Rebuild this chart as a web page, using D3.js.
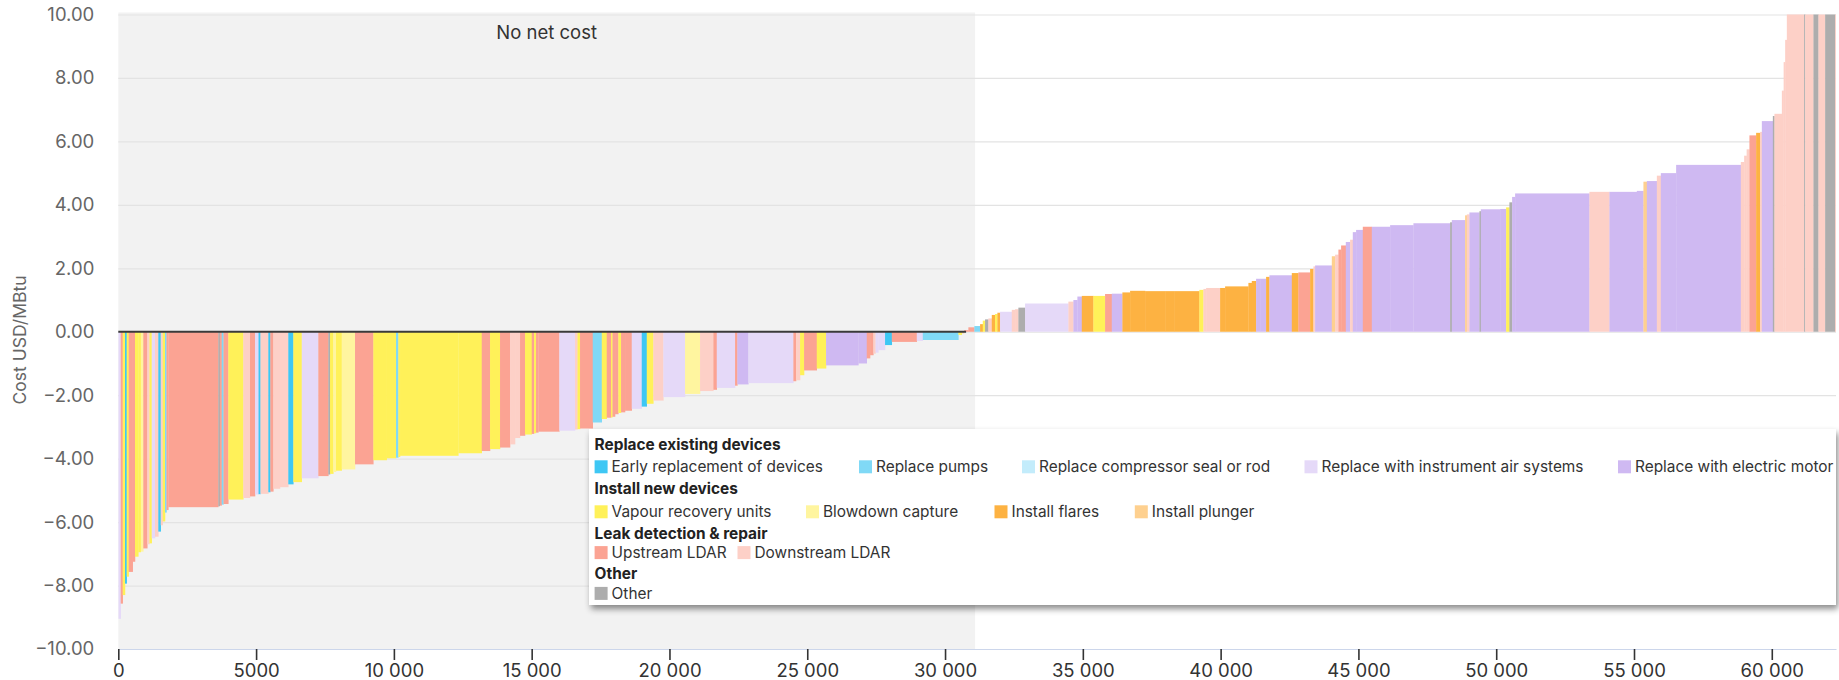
<!DOCTYPE html>
<html><head><meta charset="utf-8">
<script src="https://cdn.jsdelivr.net/npm/d3@7"></script>
<style>
body{margin:0;background:#fff;}
svg{display:block;font-family:Inter,"Noto Sans",Roboto,sans-serif;}
</style>
</head><body>
<svg id="chart" width="1839" height="680"></svg>
<script>
// ---------- DATA ----------
const measureNames = [
  "Early replacement of devices", "Replace pumps", "Replace compressor seal or rod",
  "Replace with instrument air systems", "Replace with electric motor",
  "Vapour recovery units", "Blowdown capture", "Install flares", "Install plunger",
  "Upstream LDAR", "Downstream LDAR", "Other"
];
const measureColors = [
  "#3ec7f4", "#80d9f6", "#c3ecfb", "#e5d9f8", "#cfb9f2",
  "#fff159", "#fff59f", "#fdb242", "#fed08f",
  "#fba393", "#fdd0c7", "#adadad"
];
const measureCodes = ["E","P","C","I","M","V","B","F","L","U","D","O"];
const groupNames = ["Replace existing devices", "Install new devices", "Leak detection & repair", "Other"];
const groupMembers = [[0,1,2,3,4],[5,6,7,8],[9,10],[11]];

const yTicks = [-10,-8,-6,-4,-2,0,2,4,6,8,10];
const xTicks = [0,5000,10000,15000,20000,25000,30000,35000,40000,45000,50000,55000,60000];
const xMax = 62330;
const noNetCostEnd = 31090;
const noNetCostLabel = "No net cost";
const yTitle = "Cost USD/MBtu";

// cumulative abatement at the right edge of each measure (kt CH4)
const cumulativeAbatement = [
  87,160,243,305,377,523,606,726,817,907,1052,1132,1212,1332,1452,1539,1611,1695,1749,1815,
  3629,3683,3752,3818,3992,4536,4779,4961,5088,5160,5444,5516,5625,5868,6169,6351,6656,7258,7621,7683,
  7802,7900,8107,8590,9254,9740,10078,10161,10223,12339,13188,13489,13852,14215,14396,14578,14759,15002,15086,15158,
  15242,16004,16574,16664,16755,17216,17543,17724,17880,17934,18025,18145,18243,18388,18631,18994,19176,19415,19778,20566,
  21110,21593,21716,22380,22464,22863,24496,24594,24739,24884,25345,25682,26855,27159,27279,27399,27479,27580,27823,28067,
  28974,29192,30484,30607,30691,30847,31064,31271,31369,31452,31572,31696,31815,31899,31997,32421,32541,32661,32904,34476,
  34657,34802,34962,35383,35807,36050,36435,36715,37259,37985,38311,39229,39375,39473,39981,40162,41008,41131,41287,41432,
  41650,41770,42583,42822,43247,43367,43428,44034,44154,44274,44372,44542,44698,44796,44916,45159,45486,46150,46996,48327,
  48389,48872,48933,49028,49391,49442,50142,50360,50479,50577,50686,53382,54108,55103,55342,55466,55829,55974,56529,58877,
  58997,59087,59189,59432,59577,59639,60038,60096,60365,60430,60485,60546,61174,61210,61512,61693,61936,62299,62330
];
// cost of each measure (USD/MBtu)
const costs = [
  -9.05,-8.57,-8.3,-7.94,-7.72,-7.57,-7.25,-7.09,-6.95,-6.93,-6.83,-6.7,-6.67,-6.51,-6.46,-6.3,-6.1,-5.98,-5.7,-5.62,
  -5.53,-5.5,-5.48,-5.45,-5.43,-5.29,-5.24,-5.19,-5.13,-5.12,-5.11,-5.06,-5.04,-4.95,-4.9,-4.81,-4.74,-4.62,-4.55,-4.5,
  -4.48,-4.42,-4.38,-4.34,-4.18,-4.05,-3.99,-3.97,-3.95,-3.91,-3.83,-3.76,-3.70,-3.65,-3.55,-3.35,-3.28,-3.24,-3.22,-3.2,
  -3.18,-3.15,-3.12,-3.08,-3.07,-3.05,-2.86,-2.75,-2.71,-2.7,-2.68,-2.6,-2.56,-2.54,-2.49,-2.43,-2.36,-2.27,-2.17,-2.06,
  -1.96,-1.87,-1.83,-1.77,-1.7,-1.66,-1.62,-1.56,-1.53,-1.37,-1.22,-1.16,-1.06,-1.0,-0.84,-0.74,-0.69,-0.66,-0.58,-0.42,
  -0.32,-0.29,-0.26,-0.1,-0.05,0.05,0.14,0.18,0.24,0.35,0.39,0.42,0.53,0.56,0.6,0.63,0.69,0.71,0.76,0.89,
  0.95,1.0,1.11,1.13,1.13,1.19,1.2,1.24,1.29,1.28,1.28,1.28,1.32,1.35,1.38,1.38,1.43,1.54,1.6,1.67,
  1.67,1.73,1.78,1.85,1.87,1.98,2.06,2.09,2.38,2.43,2.59,2.72,2.83,2.9,3.14,3.21,3.31,3.31,3.36,3.42,
  3.45,3.52,3.67,3.7,3.76,3.8,3.86,3.87,3.92,4.08,4.25,4.36,4.41,4.41,4.44,4.73,4.75,4.92,5.0,5.26,
  5.35,5.55,5.75,6.19,6.27,6.3,6.64,6.8,6.87,7.6,8.5,9.2,12,14,16,18,20,24,28
];
// measure of each bar (code from measureCodes)
const measureOfBar = [
  "I","U","V","E","V","U","U","V","V","B","U","D","V","I","D","E","D","V","P","U",
  "U","O","U","P","U","V","D","U","I","E","D","E","U","D","D","E","V","I","U","O",
  "V","B","V","B","U","V","V","P","V","V","V","U","V","U","D","D","U","V","U","V",
  "U","U","I","D","V","U","P","V","U","V","U","U","V","U","U","I","E","V","D","I",
  "B","D","U","I","U","M","I","U","D","V","U","V","M","M","U","U","D","I","I","E",
  "U","I","P","V","L","U","U","P","F","V","O","D","F","V","F","I","D","D","O","I",
  "D","M","M","F","V","U","M","F","F","F","F","F","V","D","D","F","F","F","F","M",
  "M","F","M","F","U","F","D","M","L","D","U","U","M","D","M","M","U","M","M","M",
  "O","M","L","D","M","O","M","M","V","O","M","M","D","M","M","L","M","D","M","M",
  "D","D","D","U","F","D","M","O","D","D","D","D","D","O","D","O","D","O","D"
];

// ---------- LAYOUT ----------
const svg = d3.select("#chart");
const plot = {left: 118.3, right: 1836, top: 14.5, bottom: 649};
const x = d3.scaleLinear().domain([0, xMax]).range([plot.left, plot.right]);
const y = d3.scaleLinear().domain([-10, 10]).range([plot.bottom, plot.top]);
const colorOf = code => measureColors[measureCodes.indexOf(code)];

svg.append("defs").append("clipPath").attr("id","plotClip")
  .append("rect").attr("x",plot.left).attr("y",plot.top)
  .attr("width",plot.right-plot.left).attr("height",plot.bottom-plot.top);

// no net cost band
svg.append("rect")
  .attr("x", x(0)).attr("y", plot.top - 2)
  .attr("width", x(noNetCostEnd) - x(0)).attr("height", plot.bottom - plot.top + 2)
  .attr("fill", "#f2f2f2");

// gridlines
svg.append("g").attr("transform", `translate(${plot.left},0)`)
  .call(d3.axisLeft(y).tickValues(yTicks.filter(t => t > -10)).tickSize(-(plot.right-plot.left)).tickFormat(""))
  .call(g => g.select(".domain").remove())
  .call(g => g.selectAll("line").attr("stroke","#e3e3e3").attr("stroke-width",1.2));

// bars
const bars = costs.map((c, i) => ({
  x0: i === 0 ? 0 : cumulativeAbatement[i-1],
  x1: cumulativeAbatement[i],
  cost: c,
  code: measureOfBar[i]
}));
svg.append("g").attr("clip-path","url(#plotClip)")
  .selectAll("rect").data(bars).join("rect")
  .attr("x", d => x(d.x0))
  .attr("width", d => Math.max(0.3, x(d.x1) - x(d.x0)) + 0.25)
  .attr("y", d => y(Math.max(0, d.cost)))
  .attr("height", d => Math.abs(y(d.cost) - y(0)))
  .attr("fill", d => colorOf(d.code));

// zero line across the negative part
const lastNeg = bars.filter(b => b.cost < 0).pop();
svg.append("line")
  .attr("x1", x(0)).attr("x2", x(lastNeg.x1) + 2)
  .attr("y1", y(0)).attr("y2", y(0))
  .attr("stroke", "#3a3a3a").attr("stroke-width", 2);

// y axis labels
svg.append("g").attr("transform", `translate(${plot.left},0)`)
  .call(d3.axisLeft(y).tickValues(yTicks).tickSize(0).tickPadding(24).tickFormat(d3.format(".2f")))
  .call(g => g.select(".domain").remove())
  .call(g => g.selectAll("text").attr("fill","#666").style("font-size","18.5px").style("font-family","Inter,sans-serif"));

// y title
svg.append("text")
  .attr("transform", `translate(25.5,340) rotate(-90)`)
  .attr("text-anchor","middle").attr("fill","#666")
  .style("font-size","17.5px").text(yTitle);

// x axis
const fmtX = v => v >= 10000 ? d3.format(",")(v).replace(/,/g, " ") : String(v);
svg.append("g").attr("transform", `translate(0,${plot.bottom})`)
  .call(d3.axisBottom(x).tickValues(xTicks).tickSize(11).tickSizeOuter(0).tickPadding(4).tickFormat(fmtX))
  .call(g => g.select(".domain").attr("stroke","#ccd6eb").attr("stroke-width",1.2))
  .call(g => g.selectAll(".tick line").attr("stroke","#333").attr("stroke-width",1.6))
  .call(g => g.selectAll("text").attr("fill","#333").style("font-size","18.5px").style("font-family","Inter,sans-serif"));

// No net cost label
svg.append("text")
  .attr("x", (x(0) + x(noNetCostEnd)) / 2).attr("y", 33).attr("dy","0.35em")
  .attr("text-anchor","middle").attr("fill","#333")
  .style("font-size","18.5px").text(noNetCostLabel);

// ---------- LEGEND ----------
const lg = {x: 589, y: 429, w: 1836 - 589, h: 176};
const defs = svg.select("defs");
const f = defs.append("filter").attr("id","shadow").attr("x","-5%").attr("y","-20%").attr("width","110%").attr("height","150%");
f.append("feDropShadow").attr("dx",2).attr("dy",4).attr("stdDeviation",3).attr("flood-color","#000").attr("flood-opacity",0.45);
svg.append("rect").attr("x",lg.x).attr("y",lg.y).attr("width",lg.w).attr("height",lg.h)
  .attr("fill","#fff").attr("filter","url(#shadow)");

const headerCy = [444.5, 488.5, 533.6, 573.8];
const rowCy = [466.8, 511.8, 552.6, 593.4];
const itemX = [
  [594.6, 859, 1022, 1304.5, 1618],
  [594.6, 806, 994.5, 1134.8],
  [594.6, 737.5],
  [594.6]
];
const legendLeft = 594.6;
const legend = svg.append("g").style("font-size","15.4px").attr("fill","#333");
groupNames.forEach((gname, gi) => {
  legend.append("text").attr("x", legendLeft).attr("y", headerCy[gi]).attr("dy","0.35em")
    .style("font-weight","700").attr("fill","#222").text(gname);
  groupMembers[gi].forEach((mi, k) => {
    const cx = itemX[gi][k];
    legend.append("rect").attr("x", cx).attr("y", rowCy[gi] - 6.5).attr("width", 13).attr("height", 13)
      .attr("fill", measureColors[mi]);
    legend.append("text").attr("x", cx + 17).attr("y", rowCy[gi]).attr("dy","0.35em")
      .attr("fill","#333").text(measureNames[mi]);
  });
});
</script>
</body></html>
